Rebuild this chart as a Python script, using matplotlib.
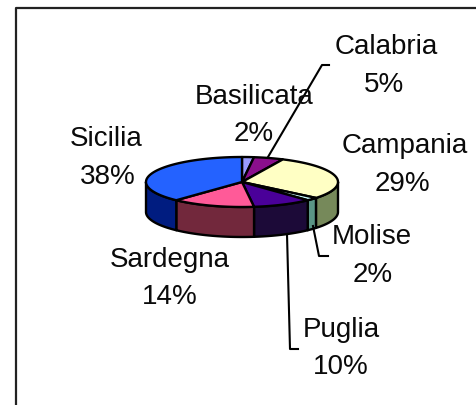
import numpy as np
import matplotlib
matplotlib.use("Agg")
import matplotlib.pyplot as plt

# Data
regions = ["Basilicata", "Calabria", "Campania", "Molise", "Puglia", "Sardegna", "Sicilia"]
shares = [2, 5, 29, 2, 10, 14, 38]
top_colors = ["#9a9cff", "#8a0f8c", "#ffffc4", "#ccffff", "#4a0099", "#ff5a98", "#2462ff"]
side_colors = ["#4d4e80", "#450846", "#76895a", "#5a9585", "#1c0a38", "#72283c", "#001c80"]
label_centers = [(254, 97), (386, 47), (405, 146), (372, 237), (341, 330), (170, 260), (106, 139)]
percent_centers = [(254, 134), (384, 85), (402, 184), (373, 275), (341, 367), (170, 297), (108, 177)]
leaders = {
    "Calabria": [(268, 158), (322, 66), (329, 66)],
    "Molise": [(313, 227), (319, 257), (328, 257)],
    "Puglia": [(287, 235), (290, 350), (298, 350)],
}

W, H = 477, 406
CX, CY, RX, RY, DEPTH = 242, 183, 96, 25, 30

fig = plt.figure(figsize=(W / 100, H / 100), dpi=100)
ax = fig.add_axes([0, 0, 1, 1])
ax.set_xlim(0, W)
ax.set_ylim(H, 0)
ax.axis("off")
plt.rcParams["font.family"] = ["Liberation Sans", "DejaVu Sans"]


def rim(a, b, dy=0.0):
    t = np.radians(np.linspace(a, b, max(int(abs(b - a)) + 2, 3)))
    return CX + RX * np.sin(t), CY + dy - RY * np.cos(t)


# Frame: only its left and top edges are visible, running off the image
ax.plot([16.5, 16.5, W], [H, 8.5, 8.5], color="#222222", lw=1.6, clip_on=False)

edges = np.cumsum([0] + shares) / sum(shares) * 360

# Outer side wall: only the front half of the rim (90 to 270 degrees) shows
for i in range(len(shares)):
    a, b = max(edges[i], 90), min(edges[i + 1], 270)
    if a >= b:
        continue
    x1, y1 = rim(a, b)
    x2, y2 = rim(b, a, DEPTH)
    ax.fill(np.r_[x1, x2], np.r_[y1, y2], facecolor=side_colors[i],
            edgecolor="black", lw=1.7, joinstyle="round", zorder=2)

# Top face
for i in range(len(shares)):
    x, y = rim(edges[i], edges[i + 1])
    ax.fill(np.r_[CX, x], np.r_[CY, y], facecolor=top_colors[i],
            edgecolor="black", lw=1.7, joinstyle="round", zorder=3)

# Leader lines
for pts in leaders.values():
    xs, ys = zip(*pts)
    ax.plot(xs, ys, color="black", lw=1.5, zorder=4)

# Labels: name above, percentage below
for name, share, (lx, ly), (px, py) in zip(regions, shares, label_centers, percent_centers):
    ax.text(lx, ly, name, ha="center", va="center", fontsize=20, color="#0a0a0a", zorder=5)
    ax.text(px, py, f"{share}%", ha="center", va="center",
            fontsize=20, color="#0a0a0a", zorder=5)

fig.savefig("out.png", dpi=100, facecolor="white")
